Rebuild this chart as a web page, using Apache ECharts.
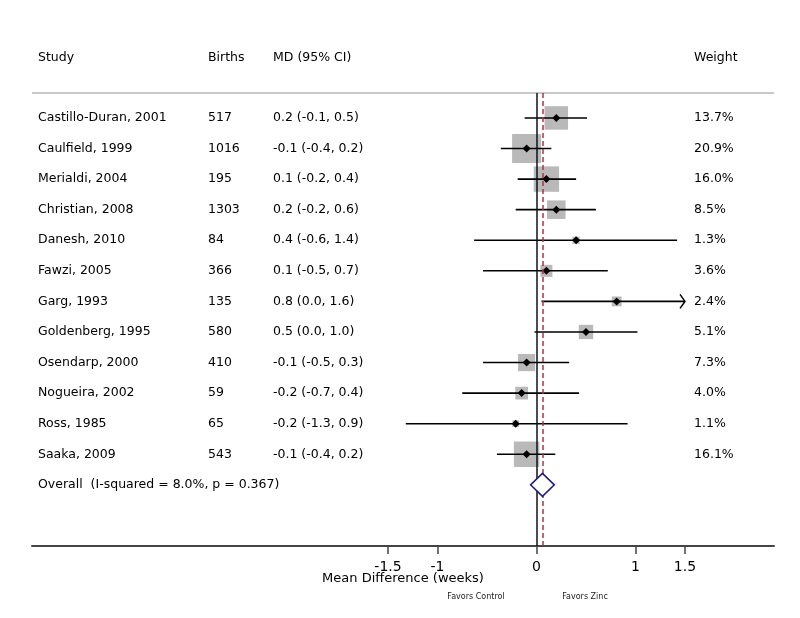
<!DOCTYPE html>
<html>
<head>
<meta charset="utf-8">
<script src="https://cdn.jsdelivr.net/npm/echarts@6/dist/echarts.min.js"></script>
<style>html,body{margin:0;padding:0;background:#fff;}#chart{width:800px;height:618px;}</style>
</head>
<body>
<div id="chart"></div>
<script>
// ---- data ----
var studies = ["Castillo-Duran, 2001","Caulfield, 1999","Merialdi, 2004","Christian, 2008","Danesh, 2010","Fawzi, 2005","Garg, 1993","Goldenberg, 1995","Osendarp, 2000","Nogueira, 2002","Ross, 1985","Saaka, 2009"];
var births = [517,1016,195,1303,84,366,135,580,410,59,65,543];
var mdText = ["0.2 (-0.1, 0.5)","-0.1 (-0.4, 0.2)","0.1 (-0.2, 0.4)","0.2 (-0.2, 0.6)","0.4 (-0.6, 1.4)","0.1 (-0.5, 0.7)","0.8 (0.0, 1.6)","0.5 (0.0, 1.0)","-0.1 (-0.5, 0.3)","-0.2 (-0.7, 0.4)","-0.2 (-1.3, 0.9)","-0.1 (-0.4, 0.2)"];
var weights = [13.7,20.9,16.0,8.5,1.3,3.6,2.4,5.1,7.3,4.0,1.1,16.1];
var estimates = [0.20,-0.10,0.10,0.20,0.40,0.10,0.81,0.50,-0.10,-0.15,-0.21,-0.10];
var lowerCI = [-0.12,-0.36,-0.19,-0.21,-0.63,-0.54,0.05,-0.02,-0.54,-0.75,-1.32,-0.40];
var upperCI = [0.51,0.15,0.40,0.60,1.42,0.72,1.60,1.02,0.33,0.43,0.92,0.19];
var overallLabel = "Overall  (I-squared = 8.0%, p = 0.367)";
var overallEst = 0.06, overallLow = -0.06, overallHigh = 0.18;
var xTicks = [-1.5,-1,0,1,1.5];
var headers = ["Study","Births","MD (95% CI)","Weight"];
var axisTitle = "Mean Difference (weeks)";
var favorLeft = "Favors Control", favorRight = "Favors Zinc";

// ---- layout ----
var FONT = '12.5px "DejaVu Sans", sans-serif';
var colX = [38, 208, 273, 694];
var clipMax = 1.5;

var chart = echarts.init(document.getElementById('chart'), null, {renderer:'canvas'});

var rows = studies.map(function(s,i){return [i];});

function diamond(cx, cy, hw, hh){
  return [[cx-hw,cy],[cx,cy-hh],[cx+hw,cy],[cx,cy+hh]];
}

var option = {
  animation:false,
  backgroundColor:'#fff',
  grid:{left:32,right:26,top:93,bottom:72},
  xAxis:{
    type:'value', min:-5.096, max:2.399,
    splitLine:{show:false},
    axisLine:{show:true,onZero:false,lineStyle:{color:'#444',width:2}},
    axisTick:{show:true,length:8,lineStyle:{color:'#444',width:1.5},customValues:xTicks},
    axisLabel:{show:true,customValues:xTicks,color:'#000',fontSize:14,margin:14,fontFamily:'DejaVu Sans',
      formatter:function(v){return String(v);}},
    name:axisTitle, nameLocation:'middle', nameGap:26, nameMoveOverlap:false,
    nameTextStyle:{color:'#000',fontSize:13,fontFamily:'DejaVu Sans'}
  },
  yAxis:{type:'value',min:-0.816,max:14.0,inverse:true,show:false},
  graphic:[
    {type:'line',shape:{x1:32,y1:93,x2:774,y2:93},style:{stroke:'#c8c8c8',lineWidth:2},z:1}
  ].concat(headers.map(function(h,k){
    return {type:'text',x:colX[k],y:58,style:{text:h,font:FONT,fill:'#000',verticalAlign:'middle'}};
  })).concat([
    {type:'text',x:476,y:597,style:{text:favorLeft,font:'8px "DejaVu Sans", sans-serif',fill:'#222',align:'center',verticalAlign:'middle'}},
    {type:'text',x:585,y:597,style:{text:favorRight,font:'8px "DejaVu Sans", sans-serif',fill:'#222',align:'center',verticalAlign:'middle'}}
  ]),
  series:[
    {
      type:'custom', z:2, clip:false,
      data:rows,
      renderItem:function(params, api){
        var i = api.value(0);
        var p = api.coord([estimates[i], i]);
        var lo = api.coord([lowerCI[i], i]);
        var hiVal = Math.min(upperCI[i], clipMax);
        var hi = api.coord([hiVal, i]);
        var s = 6.35*Math.sqrt(weights[i]);
        var children = [
          {type:'rect',shape:{x:p[0]-s/2,y:p[1]-s/2,width:s,height:s},style:{fill:'#b9b9b9'}},
          {type:'line',shape:{x1:lo[0],y1:lo[1],x2:hi[0],y2:hi[1]},style:{stroke:'#000',lineWidth:1.6}},
          {type:'polygon',shape:{points:diamond(p[0],p[1],4,4)},style:{fill:'#000'}}
        ];
        if (upperCI[i] > clipMax) {
          children.push({type:'polyline',shape:{points:[[hi[0]-5,hi[1]-7],[hi[0],hi[1]],[hi[0]-5,hi[1]+7]]},style:{stroke:'#000',lineWidth:1.5,fill:null}});
        }
        return {type:'group',children:children};
      },
      markLine:{
        silent:true, symbol:'none', z:5, label:{show:false},
        data:[
          {xAxis:0, lineStyle:{color:'#111',width:1.5,type:'solid'}},
          {xAxis:overallEst, lineStyle:{color:'#a8344a',width:1.5,type:[5,3]}}
        ]
      }
    },
    {
      type:'custom', z:6, clip:false,
      data:[[studies.length]],
      renderItem:function(params, api){
        var i = api.value(0);
        var c = api.coord([overallEst, i]);
        var l = api.coord([overallLow, i]);
        var r = api.coord([overallHigh, i]);
        return {type:'polygon',shape:{points:[[l[0],c[1]],[c[0],c[1]-11.5],[r[0],c[1]],[c[0],c[1]+11.5]]},
          style:{fill:'#fff',stroke:'#1c1c80',lineWidth:1.5}};
      }
    },
    {
      type:'custom', z:3, clip:false,
      data:rows.concat([[studies.length]]),
      renderItem:function(params, api){
        var i = api.value(0);
        var y = api.coord([0, i])[1];
        if (i >= studies.length) {
          return {type:'text',x:colX[0],y:y,style:{text:overallLabel,font:FONT,fill:'#000',verticalAlign:'middle'}};
        }
        var texts = [studies[i], String(births[i]), mdText[i], weights[i].toFixed(1)+'%'];
        return {type:'group',children:texts.map(function(t,k){
          return {type:'text',x:colX[k],y:y,style:{text:t,font:FONT,fill:'#000',verticalAlign:'middle'}};
        })};
      }
    }
  ]
};
chart.setOption(option);
</script>
</body>
</html>
